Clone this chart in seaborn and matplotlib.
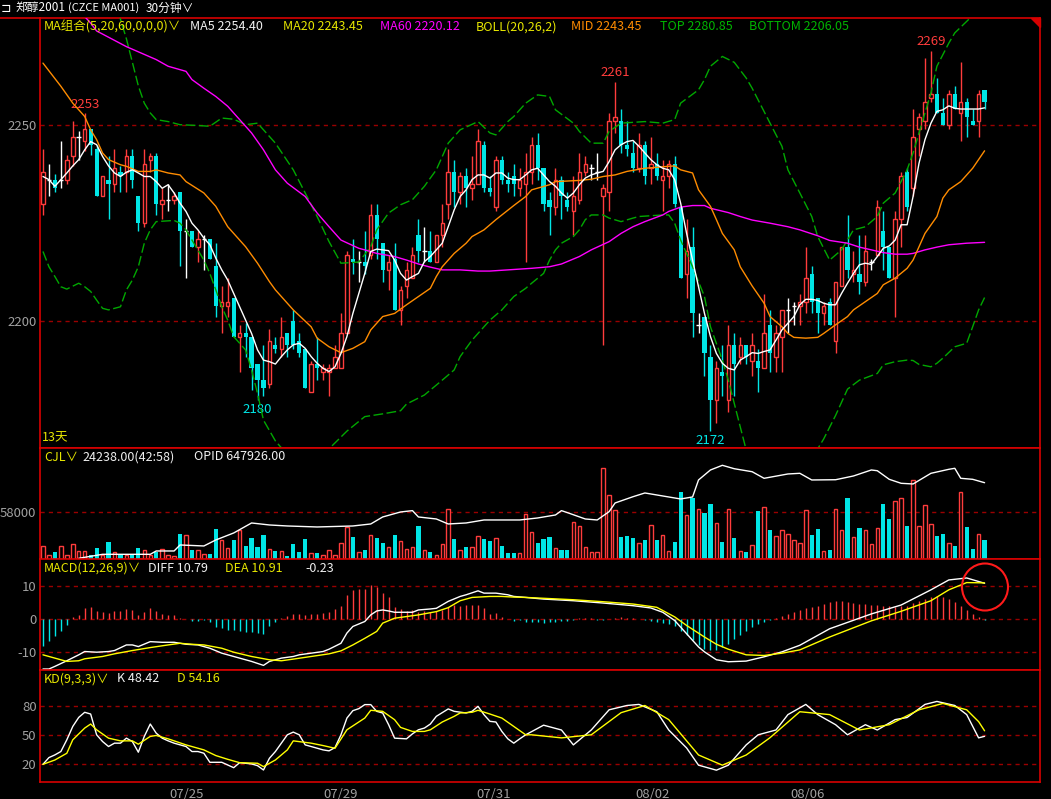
import numpy as np
import pandas as pd
import matplotlib
matplotlib.use('Agg')
import matplotlib.pyplot as plt
import seaborn as sns
from matplotlib.patches import Ellipse, Polygon

sns.set_theme(style='dark')
plt.rcParams['font.family'] = ['Noto Sans CJK SC', 'DejaVu Sans']
plt.rcParams['axes.unicode_minus'] = False

# ---- K线数据 (30分钟) ----
opens = [2230, 2236, 2236, 2236, 2236, 2242, 2247, 2246, 2249, 2244,
         2232, 2236, 2235, 2238, 2238, 2242, 2232, 2225, 2241, 2242,
         2230, 2231, 2231, 2233, 2223, 2223, 2219, 2221, 2221, 2214,
         2204, 2204, 2206, 2196, 2197, 2196, 2189, 2185, 2184, 2194,
         2193, 2197, 2200, 2195, 2193, 2182, 2189, 2187, 2187, 2188,
         2188, 2197, 2216, 2215, 2215, 2217, 2227, 2220, 2213, 2216,
         2203, 2209, 2211, 2222, 2218, 2218, 2215, 2222, 2230, 2238,
         2233, 2237, 2234, 2235, 2245, 2234, 2229, 2241, 2236, 2237,
         2234, 2235, 2238, 2245, 2239, 2231, 2229, 2236, 2231, 2228,
         2231, 2238, 2239, 2238, 2232, 2233, 2251, 2251, 2245, 2243,
         2239, 2245, 2239, 2240, 2236, 2237, 2240, 2229, 2212, 2219,
         2199, 2201, 2191, 2180, 2187, 2180, 2194, 2191, 2194, 2190,
         2190, 2188, 2199, 2191, 2196, 2203, 2204, 2204, 2205, 2212,
         2206, 2202, 2205, 2195, 2209, 2219, 2212, 2212, 2210, 2215,
         2217, 2223, 2219, 2211, 2226, 2238, 2234, 2249, 2251, 2257,
         2258, 2253, 2250, 2258, 2253, 2256, 2251, 2251, 2259]
closes = [2238, 2236, 2234, 2236, 2241, 2247, 2247, 2249, 2245, 2232,
          2237, 2235, 2239, 2237, 2242, 2236, 2225, 2240, 2242, 2230,
          2231, 2231, 2232, 2223, 2223, 2219, 2221, 2221, 2216, 2204,
          2205, 2205, 2196, 2197, 2196, 2188, 2185, 2183, 2195, 2193,
          2196, 2194, 2194, 2192, 2183, 2189, 2188, 2188, 2188, 2191,
          2197, 2217, 2215, 2215, 2214, 2227, 2221, 2213, 2215, 2203,
          2208, 2213, 2217, 2218, 2218, 2215, 2222, 2225, 2238, 2233,
          2237, 2234, 2235, 2246, 2234, 2233, 2241, 2236, 2235, 2235,
          2236, 2238, 2245, 2239, 2230, 2229, 2236, 2232, 2229, 2232,
          2238, 2240, 2239, 2238, 2234, 2251, 2252, 2245, 2244, 2239,
          2245, 2237, 2240, 2237, 2237, 2240, 2230, 2211, 2218, 2202,
          2199, 2192, 2180, 2188, 2186, 2194, 2189, 2194, 2191, 2194,
          2188, 2197, 2192, 2197, 2203, 2203, 2204, 2205, 2211, 2205,
          2202, 2204, 2199, 2210, 2219, 2213, 2213, 2210, 2218, 2215,
          2229, 2219, 2211, 2226, 2237, 2229, 2247, 2252, 2256, 2258,
          2253, 2250, 2258, 2254, 2256, 2252, 2250, 2258, 2256]
highs = [2244, 2240, 2237.5, 2246, 2242.5, 2251, 2248.5, 2253, 2249, 2245,
         2237, 2242, 2244, 2239.5, 2244, 2244, 2232, 2244, 2243, 2243,
         2234, 2235, 2233, 2233, 2226, 2223, 2223, 2222, 2221, 2220,
         2209, 2211, 2206, 2199, 2199.5, 2196, 2189, 2194, 2198, 2196,
         2201, 2197, 2203, 2197, 2193, 2190, 2196, 2189, 2189, 2194,
         2202, 2218, 2221, 2218, 2223, 2230, 2230, 2220, 2217, 2220,
         2209, 2215, 2219, 2226, 2224, 2223, 2222, 2230, 2244, 2241,
         2238, 2239, 2242, 2249, 2246, 2237, 2242, 2242, 2238, 2240,
         2239, 2243, 2247, 2248, 2239, 2233, 2239, 2237, 2233, 2237,
         2243, 2242, 2240, 2243, 2235, 2253, 2261, 2254, 2251, 2246,
         2248, 2246, 2247, 2243, 2241, 2241, 2242, 2229, 2226, 2224,
         2202, 2201, 2194, 2190, 2194, 2199, 2197, 2196, 2194, 2197,
         2193, 2207, 2203, 2199, 2203, 2206, 2205, 2207, 2219, 2214,
         2206, 2205, 2206, 2210, 2219, 2227, 2218, 2222, 2222, 2216,
         2231, 2228, 2219, 2228, 2238, 2239, 2254, 2253, 2267, 2269,
         2262, 2257, 2259, 2260, 2266, 2257, 2254, 2259, 2259]
lows = [2227, 2232, 2233, 2234, 2235, 2239.5, 2241, 2243.5, 2242.5, 2232,
        2232, 2226, 2233, 2233, 2233, 2234, 2223, 2224, 2238, 2227,
        2226, 2228, 2230, 2214, 2211, 2219, 2215, 2213, 2216, 2201,
        2197, 2201, 2196, 2187, 2191, 2182.5, 2180, 2181, 2183, 2192,
        2191, 2191, 2193, 2191, 2183, 2182, 2185, 2185, 2181, 2188,
        2188, 2197, 2212, 2210, 2212, 2216, 2216, 2210, 2208, 2203,
        2199, 2206, 2211, 2215, 2215, 2215, 2215, 2219, 2226, 2229,
        2230, 2229, 2231, 2235, 2233, 2232, 2228, 2235, 2233, 2232,
        2232, 2215, 2235, 2236, 2228, 2222, 2227, 2226, 2228, 2222,
        2230, 2237, 2236, 2236, 2194, 2228, 2248, 2243, 2242, 2238,
        2238, 2235, 2235, 2236, 2228, 2234, 2229, 2211, 2206, 2196,
        2197, 2186, 2172, 2174, 2181, 2177, 2181, 2189, 2189, 2186,
        2182, 2188, 2187, 2187, 2187, 2197, 2199, 2199, 2202, 2202,
        2197, 2199, 2199, 2192, 2209, 2211, 2210, 2207, 2209, 2213,
        2217, 2213, 2211, 2201, 2219, 2228, 2232, 2242, 2249, 2256,
        2253, 2250, 2249, 2254, 2246, 2247, 2250, 2247, 2254]

# ---- 成交量 CJL ----
volumes = [16000, 4900, 7800, 16000, 4900, 18500, 9900, 9900, 4900, 12700,
           4100, 21000, 8200, 4900, 4100, 4100, 12700, 11100, 4500, 8200,
           12300, 4100, 3700, 30800, 29600, 11100, 11100, 6200, 6200, 36200,
           23400, 13600, 23400, 35800, 16000, 25900, 14800, 29600, 12300, 9900,
           9900, 3700, 18500, 8600, 24700, 7000, 7000, 4500, 10700, 4500,
           19300, 39900, 27100, 8200, 11100, 29200, 25900, 19700, 14800, 29600,
           21800, 12300, 14400, 40700, 11100, 8600, 4900, 18500, 61200, 23800,
           11100, 14800, 14800, 28400, 23800, 21400, 25500, 16000, 7400, 7400,
           7000, 55500, 33300, 19700, 24700, 27100, 13600, 11100, 11100, 45600,
           40700, 14800, 8600, 8600, 113400, 78900, 60400, 27100, 28400, 25900,
           19700, 23400, 41900, 23400, 29600, 9900, 21000, 82600, 54300, 75200,
           61700, 56700, 67800, 44400, 21000, 61700, 25900, 9900, 8600, 17300,
           59200, 64100, 35800, 28400, 35800, 30800, 23400, 19700, 60400, 29600,
           37000, 9900, 11100, 61700, 35800, 75200, 27100, 38200, 35800, 18500,
           38200, 67800, 49300, 71500, 75200, 40700, 97400, 40700, 66600, 43200,
           28400, 30800, 19700, 16000, 82600, 39500, 12300, 30800, 23400]

# ---- 均线 ----
ma5 = [2236.9, 2236.1, 2234.4, 2236.1, 2237.8, 2239.6, 2241.2, 2243.7, 2245.8, 2245.0,
       2242.0, 2239.6, 2237.8, 2236.9, 2238.0, 2238.6, 2237.8, 2236.9, 2236.9, 2235.6,
       2233.9, 2234.8, 2232.7, 2230.1, 2228.0, 2225.0, 2223.3, 2221.2, 2219.5, 2216.1,
       2213.1, 2210.5, 2207.1, 2203.7, 2200.3, 2196.9, 2192.7, 2190.1, 2189.7, 2189.1,
       2191.0, 2192.7, 2194.0, 2194.4, 2193.1, 2191.0, 2189.3, 2188.0, 2187.2, 2188.4,
       2191.8, 2196.1, 2202.0, 2207.1, 2212.2, 2217.8, 2218.4, 2218.2, 2218.0, 2215.6,
       2212.2, 2210.5, 2211.4, 2212.2, 2215.2, 2216.5, 2218.2, 2219.9, 2224.1, 2228.4,
       2231.8, 2233.5, 2236.1, 2237.3, 2237.3, 2236.5, 2237.8, 2237.8, 2236.5, 2236.1,
       2236.1, 2237.3, 2238.6, 2239.0, 2237.3, 2235.6, 2234.4, 2232.7, 2231.4, 2232.7,
       2234.8, 2236.5, 2237.3, 2237.8, 2238.2, 2240.7, 2243.7, 2245.0, 2245.8, 2246.1,
       2244.6, 2242.9, 2241.2, 2239.9, 2239.0, 2238.6, 2236.1, 2230.1, 2222.4, 2215.6,
       2208.8, 2202.0, 2196.1, 2191.8, 2189.3, 2188.0, 2187.6, 2190.1, 2191.0, 2192.0,
       2191.8, 2192.3, 2192.7, 2195.2, 2197.8, 2199.5, 2201.2, 2204.2, 2205.6, 2205.6,
       2205.3, 2204.6, 2204.2, 2204.2, 2207.1, 2209.7, 2212.2, 2214.4, 2214.8, 2214.5,
       2216.5, 2218.6, 2219.2, 2220.7, 2224.6, 2224.6, 2231.8, 2240.3, 2246.3, 2250.5,
       2253.5, 2253.9, 2254.9, 2254.3, 2254.1, 2254.1, 2254.1, 2254.1, 2254.4]

ma20_x = [1, 4, 6, 8, 9, 10, 11, 12, 14, 15, 17, 19, 20, 22, 24, 25, 28, 30, 32, 35,
          37, 39, 40, 43, 46, 47, 49, 51, 53, 55, 56, 58, 60, 61, 62, 64, 66, 67, 68, 70,
          72, 73, 75, 77, 78, 80, 82, 83, 86, 87, 91, 93, 95, 97, 99, 102, 106, 107, 108, 110,
          111, 113, 114, 115, 117, 118, 120, 122, 123, 125, 126, 127, 129, 131, 132, 134, 136, 137, 139, 141,
          142, 144, 146, 147, 148, 149, 151, 152, 153, 155, 157, 159]
ma20 = [2265.8, 2259.9, 2255.6, 2252.2, 2248.8, 2246.3, 2242.9, 2241.2, 2239.9, 2239.5,
        2238.2, 2238.2, 2238.6, 2237.8, 2237.3, 2235.6, 2232.7, 2229.3, 2224.1, 2219.0,
        2214.8, 2210.1, 2208.0, 2202.9, 2198.6, 2195.7, 2193.5, 2192.0, 2193.1, 2194.8,
        2197.8, 2201.2, 2202.0, 2203.1, 2204.2, 2206.3, 2208.4, 2211.4, 2213.9, 2217.3,
        2219.9, 2221.6, 2223.3, 2225.9, 2227.1, 2229.5, 2231.8, 2233.5, 2234.8, 2235.6,
        2235.9, 2236.2, 2236.9, 2237.3, 2238.2, 2239.0, 2239.5, 2239.6, 2238.6, 2237.8,
        2233.5, 2229.3, 2225.9, 2222.4, 2218.2, 2213.9, 2209.0, 2204.6, 2201.2, 2198.6,
        2196.9, 2195.9, 2195.7, 2195.9, 2196.9, 2199.1, 2201.2, 2202.9, 2205.0, 2207.1,
        2209.3, 2211.0, 2213.5, 2215.6, 2219.0, 2222.4, 2226.7, 2231.4, 2233.5, 2235.6,
        2239.0, 2243.45]

ma60_x = [1, 6, 9, 10, 15, 20, 22, 25, 26, 28, 30, 32, 34, 36, 38, 40, 42, 45, 47, 49, 51,
          54, 55, 57, 60, 62, 64, 66, 68, 71, 74, 76, 79, 83, 86, 88, 91, 93, 96, 98, 100,
          102, 105, 106, 108, 110, 112, 113, 116, 118, 120, 123, 126, 128, 131, 133, 136, 138, 140, 142, 144,
          146, 147, 149, 151, 153, 156, 159]
ma60 = [2292.0, 2281.0, 2276.0, 2274.0, 2270.0, 2266.7, 2265.0, 2263.7, 2261.6, 2259.4, 2257.3,
        2254.8, 2251.4, 2248.0, 2243.7, 2238.6, 2235.2, 2231.8, 2227.6, 2224.1, 2220.7,
        2218.6, 2218.2, 2217.3, 2216.5, 2215.6, 2214.6, 2213.8, 2213.1, 2213.1, 2212.8,
        2212.8, 2213.1, 2213.5, 2213.9, 2214.6, 2216.5, 2218.2, 2220.3, 2222.4, 2224.1,
        2225.4, 2227.1, 2228.0, 2229.1, 2229.5, 2229.5, 2228.8, 2227.7, 2226.7, 2225.8,
        2225.0, 2224.1, 2223.3, 2221.8, 2220.6, 2219.9, 2218.9, 2218.2, 2217.5, 2217.1,
        2217.1, 2217.3, 2218.2, 2218.9, 2219.5, 2219.9, 2220.12]

# ---- BOLL(20,26,2) ----
top_x = [13, 15, 16, 17, 18, 19, 20, 22, 24, 27, 29, 31, 33, 35, 37, 38, 40, 43, 45, 47,
         49, 51, 54, 56, 57, 59, 61, 63, 65, 67, 69, 71, 74, 76, 77, 79, 80, 82, 84, 86,
         87, 90, 91, 93, 95, 96, 98, 102, 105, 107, 108, 111, 112, 113, 115, 117, 119, 120, 123, 125,
         126, 128, 130, 131, 133, 135, 137, 139, 141, 142, 144, 146, 147, 148, 149, 150, 151, 153, 154, 159]
boll_top = [2282.0, 2272.0, 2266.0, 2260.0, 2255.6, 2253.1, 2251.4, 2250.9, 2250.1, 2249.9,
            2249.7, 2251.8, 2251.5, 2250.1, 2250.5, 2248.8, 2245.4, 2238.6, 2232.7, 2226.7,
            2220.3, 2214.8, 2215.1, 2219.0, 2223.3, 2227.6, 2229.7, 2231.0, 2234.4, 2238.6,
            2245.4, 2248.8, 2250.9, 2248.0, 2247.5, 2250.9, 2252.2, 2255.6, 2257.7, 2257.3,
            2253.9, 2250.5, 2248.4, 2245.4, 2245.4, 2248.4, 2250.5, 2250.9, 2250.5, 2251.4,
            2255.6, 2259.0, 2261.6, 2265.0, 2267.5, 2266.0, 2262.0, 2259.4, 2250.5, 2244.6,
            2238.6, 2232.7, 2226.7, 2221.6, 2215.6, 2218.2, 2223.3, 2224.1, 2226.7, 2230.1,
            2232.7, 2238.6, 2242.9, 2248.0, 2253.1, 2258.2, 2265.0, 2270.9, 2273.5, 2280.85]
bot_x = [1, 2, 3, 4, 5, 7, 8, 9, 10, 11, 12, 14, 15, 16, 17, 18, 19, 20, 23, 24,
         25, 26, 28, 29, 30, 31, 32, 33, 35, 36, 37, 38, 40, 42, 45, 48, 50, 52, 55, 58,
         61, 62, 65, 68, 70, 71, 73, 76, 78, 80, 82, 83, 85, 86, 87, 88, 90, 91, 92, 93,
         95, 96, 98, 100, 101, 105, 106, 107, 108, 110, 112, 113, 115, 116, 118, 119, 121, 124, 127, 130,
         132, 134, 136, 138, 141, 142, 144, 146, 147, 148, 150, 151, 152, 154, 156, 157, 158, 159]
boll_bot = [2217.8, 2213.9, 2211.4, 2208.8, 2208.2, 2209.7, 2208.8, 2207.6, 2205.4, 2203.3,
            2202.9, 2203.7, 2208.0, 2210.5, 2213.9, 2219.9, 2223.3, 2225.4, 2225.7, 2225.0,
            2223.3, 2220.7, 2215.6, 2212.2, 2208.0, 2203.7, 2200.3, 2196.1, 2192.7, 2187.6,
            2181.6, 2174.8, 2169.5, 2166.0, 2164.0, 2166.0, 2169.0, 2172.0, 2175.7, 2176.4,
            2177.2, 2178.9, 2181.2, 2185.0, 2187.6, 2191.0, 2195.2, 2200.3, 2202.9, 2206.3,
            2208.4, 2209.7, 2212.2, 2215.6, 2218.2, 2219.9, 2221.6, 2223.3, 2225.9, 2227.1,
            2227.1, 2226.3, 2225.4, 2226.3, 2226.7, 2227.1, 2227.1, 2225.0, 2220.7, 2213.9,
            2206.3, 2198.6, 2190.1, 2185.0, 2173.1, 2167.2, 2163.0, 2160.0, 2160.0, 2165.0,
            2170.0, 2176.0, 2182.7, 2185.0, 2186.7, 2188.9, 2189.7, 2190.1, 2190.0, 2189.0,
            2188.4, 2189.3, 2190.6, 2193.5, 2194.4, 2198.6, 2202.9, 2206.05]

# ---- 持仓量 OPID ----
opid_x = [7, 11, 19, 20, 23, 24, 28, 30, 33, 36, 39, 42, 47, 53, 56, 58, 61, 63, 64, 67,
          69, 72, 75, 81, 84, 87, 88, 89, 92, 94, 96, 97, 100, 102, 105, 108, 110, 111, 113, 115,
          117, 120, 122, 126, 128, 130, 134, 137, 140, 141, 143, 145, 147, 150, 153, 154, 155, 157, 159]
opid = [557200, 562000, 562000, 566000, 566000, 573200, 572000, 579200, 587600, 599600,
        597200, 596000, 594800, 596000, 598400, 606800, 612800, 614400, 606800, 604400,
        598400, 599600, 603200, 603200, 605600, 609200, 614400, 612000, 604400, 603200,
        613200, 623600, 631100, 635600, 632000, 628400, 630800, 651200, 663200, 668800,
        664700, 661100, 653200, 658400, 659200, 651200, 651500, 656000, 663200, 662300,
        652000, 647200, 646400, 659200, 664000, 665200, 653200, 652000, 647926]

# ---- MACD(12,26,9) ----
macd_bar = [-8.1, -6.6, -5.2, -3.8, -1.8, 0.5, 1.2, 3.2, 3.7, 2.4,
            2.0, 1.9, 2.4, 2.5, 3.0, 2.7, 1.2, 2.2, 3.2, 2.5,
            1.5, 1.2, 1.2, 0.4, 0.1, -0.6, -0.5, -0.3, -0.8, -2.6,
            -2.8, -3.3, -3.5, -3.8, -4.0, -4.0, -4.3, -4.5, -2.3, -1.1,
            0.2, 0.9, 1.5, 1.5, 1.2, 1.5, 1.4, 1.7, 2.2, 3.0,
            3.9, 7.1, 8.6, 9.1, 9.1, 10.3, 9.6, 7.8, 6.7, 3.7,
            3.0, 2.5, 2.7, 2.2, 2.4, 2.2, 2.5, 2.7, 3.7, 4.2,
            4.0, 4.2, 4.2, 4.2, 3.2, 1.4, 1.7, 0.7, 0.1, -0.5,
            -0.3, -0.8, -0.8, -1.0, -1.2, -1.0, -0.8, -0.6, -0.5, -0.3,
            0.2, 0.3, 0.2, -0.2, -0.3, 0.1, 0.4, 0.5, 0.4, 0.2,
            -0.1, -0.3, -0.5, -0.8, -1.2, -1.6, -2.2, -3.6, -5.0, -6.5,
            -8.0, -9.0, -9.5, -9.3, -8.5, -7.5, -6.2, -5.0, -3.8, -2.6,
            -1.6, -0.8, -0.2, 0.3, 0.8, 1.5, 2.2, 2.8, 3.2, 3.6,
            4.0, 4.5, 5.0, 5.5, 5.3, 5.0, 4.8, 4.6, 4.4, 4.3,
            4.2, 4.0, 3.8, 3.6, 3.8, 4.0, 4.8, 5.5, 6.0, 6.5,
            6.8, 6.6, 6.0, 5.2, 4.0, 2.8, 1.5, 0.5, -0.23]
diff_x = [1, 2, 3, 5, 7, 8, 10, 12, 13, 15, 16, 17, 19, 21, 23, 25, 27, 29, 31, 33,
          34, 36, 38, 39, 41, 43, 44, 46, 48, 49, 51, 52, 53, 55, 56, 57, 58, 59, 60, 63,
          64, 66, 67, 69, 71, 72, 74, 75, 77, 79, 80, 82, 85, 90, 95, 100, 103, 105, 107, 109,
          111, 112, 114, 116, 119, 122, 125, 128, 133, 140, 145, 150, 153, 156, 159]
diff = [-15.2, -15.2, -14.4, -12.7, -10.9, -9.9, -10.1, -9.9, -9.6, -7.9,
        -7.9, -8.4, -6.9, -7.1, -7.1, -7.7, -7.9, -8.9, -10.4, -11.4,
        -11.9, -12.9, -14.1, -12.9, -11.9, -11.4, -10.9, -10.4, -9.9, -9.2,
        -7.4, -4.3, -2.3, -0.8, 1.2, 2.4, 2.7, 2.4, 2.0, 2.0,
        2.7, 3.0, 3.2, 5.3, 6.8, 7.3, 8.5, 7.8, 7.8, 7.3,
        6.8, 6.5, 6.0, 5.5, 4.8, 4.0, 3.3, 2.0, -0.5, -4.5,
        -8.5, -10.0, -12.4, -13.0, -12.8, -11.5, -10.0, -8.0, -3.0, 1.5,
        4.2, 8.8, 11.8, 12.4, 10.79]
dea_x = [1, 3, 5, 7, 8, 11, 13, 16, 19, 22, 24, 26, 28, 31, 33, 36, 39, 41, 43, 46,
         49, 51, 53, 55, 57, 58, 60, 62, 64, 67, 69, 71, 73, 76, 78, 80, 82, 90, 95, 100,
         104, 107, 109, 112, 114, 116, 119, 122, 125, 128, 133, 140, 145, 150, 153, 156, 159]
dea = [-10.9, -11.9, -12.9, -12.7, -12.1, -11.4, -10.6, -9.6, -8.7, -7.9,
       -7.4, -7.7, -7.9, -8.9, -10.1, -11.4, -12.4, -12.7, -12.2, -11.4,
       -10.6, -9.7, -7.9, -5.9, -3.8, -1.3, 0.2, 0.7, 1.2, 2.2,
       3.4, 5.5, 6.5, 6.8, 6.8, 6.6, 6.5, 5.8, 5.2, 4.5,
       3.5, 0.6, -2.0, -5.5, -7.7, -9.2, -10.9, -11.1, -10.4, -9.4,
       -5.5, -0.6, 2.3, 5.5, 8.8, 11.0, 10.91]

# ---- KD(9,3,3) ----
k_x = [1, 2, 3, 4, 5, 6, 7, 8, 9, 10, 11, 12, 13, 14, 15, 16, 17, 18, 19, 20,
       21, 22, 23, 25, 26, 27, 28, 29, 31, 33, 34, 36, 37, 38, 39, 40, 41, 42, 43, 44,
       45, 46, 48, 49, 50, 51, 52, 53, 54, 55, 56, 57, 58, 59, 60, 62, 63, 64, 65, 66,
       67, 69, 70, 72, 73, 74, 75, 76, 77, 78, 79, 80, 81, 82, 85, 88, 90, 93, 96, 99,
       101, 104, 106, 109, 111, 114, 116, 119, 121, 124, 126, 129, 131, 134, 136, 139, 141, 144, 146, 149,
       151, 154, 156, 158, 159]
k_val = [19.3, 26.3, 29.1, 32.6, 44.8, 58.7, 68.1, 73.4, 71.6, 50.0,
         43.0, 37.8, 41.3, 41.3, 46.5, 43.0, 31.9, 48.3, 61.2, 51.7,
         46.5, 43.7, 41.3, 37.8, 32.6, 32.6, 30.8, 21.4, 21.4, 15.8,
         21.0, 19.7, 17.9, 13.4, 25.6, 32.6, 41.3, 50.0, 52.8, 50.0,
         39.5, 37.8, 34.3, 33.3, 36.7, 50.0, 67.4, 75.1, 77.2, 81.4,
         81.4, 74.4, 72.7, 60.5, 46.5, 45.8, 51.0, 55.2, 57.0, 61.2,
         69.2, 76.9, 74.4, 72.7, 74.4, 79.6, 70.9, 64.0, 63.3, 53.5,
         45.8, 41.3, 45.8, 50.0, 60.0, 55.0, 39.5, 55.0, 76.0, 80.5,
         81.6, 74.0, 55.0, 36.3, 18.4, 13.2, 18.4, 39.5, 50.0, 55.0,
         71.0, 81.6, 71.0, 60.5, 50.0, 60.5, 55.0, 65.8, 68.0, 81.6,
         84.7, 80.5, 71.0, 46.8, 48.42]
d_x = [1, 3, 5, 6, 8, 9, 10, 12, 14, 16, 17, 19, 20, 22, 25, 28, 30, 32, 34, 37,
       38, 40, 42, 43, 46, 48, 50, 52, 55, 56, 58, 60, 61, 63, 65, 66, 68, 70, 71, 73,
       74, 76, 78, 80, 82, 83, 88, 93, 98, 102, 106, 111, 115, 119, 123, 128, 133, 138, 143, 148,
       152, 156, 158, 159]
d_val = [19.3, 23.8, 30.8, 44.8, 57.0, 61.2, 55.2, 46.5, 43.7, 43.7,
         40.2, 48.3, 49.3, 45.8, 39.5, 34.3, 28.4, 24.5, 21.0, 20.4,
         16.9, 23.8, 34.3, 43.7, 41.3, 38.8, 36.0, 55.2, 67.4, 75.5,
         74.4, 65.7, 57.7, 53.5, 53.5, 55.2, 63.3, 69.2, 72.7, 73.4,
         75.5, 71.6, 67.4, 58.7, 50.0, 50.0, 46.8, 50.0, 73.0, 80.5,
         65.8, 29.0, 18.4, 29.0, 47.0, 74.0, 71.0, 55.0, 60.5, 76.0,
         82.6, 76.0, 63.7, 54.16]

date_labels = ['07/25', '07/29', '07/31', '08/02', '08/06']
date_pos = [25.1, 50.9, 76.7, 103.3, 129.3]

RED = '#ff3c3c'
CYAN = '#00e6e6'
YEL = '#e6e600'
GRID = '#9a0000'
BORDER = '#d80000'
TICK = '#a0a0a0'

W, H = 1051, 799
fig = plt.figure(figsize=(W / 100, H / 100), dpi=100, facecolor='black')
bars = np.arange(1, len(opens) + 1)


def panel(top, bottom, ylim, yticks):
    ax = fig.add_axes([40 / W, 1 - bottom / H, 1000 / W, (bottom - top) / H])
    ax.set_facecolor('black')
    for s in ax.spines.values():
        s.set_color(BORDER)
        s.set_linewidth(1.2)
    ax.set_xlim(0.5, 168.3)
    ax.set_ylim(*ylim)
    ax.set_xticks([])
    ax.set_yticks(yticks)
    ax.set_yticklabels([str(t) for t in yticks])
    ax.tick_params(axis='y', length=0, colors=TICK, labelsize=9.5, pad=2.5)
    ax.grid(False)
    for t in yticks:
        ax.axhline(t, color=GRID, lw=1, ls=(0, (3, 3)), zorder=1)
    return ax


def line(ax, xs, ys, color, ls='-'):
    sns.lineplot(x=xs, y=ys, ax=ax, color=color, linewidth=1, linestyle=ls,
                 legend=False, zorder=6)


def ftext(x, y, s, color, size=9, ha='left', **kw):
    fig.text(x / W, 1 - y / H, s, color=color, fontsize=size, ha=ha, va='center', **kw)


# ---------------- 主图 ----------------
ax_p = panel(18, 448, (2167.7, 2277.3), [2200, 2250])
o, c, h, l = map(np.array, (opens, closes, highs, lows))
up, dn, flat = c > o, c < o, c == o
ax_p.vlines(bars[up], l[up], h[up], color=RED, lw=1, zorder=3)
ax_p.bar(bars[up], c[up] - o[up], bottom=o[up], width=0.58, facecolor='black',
         edgecolor=RED, linewidth=1, zorder=4)
ax_p.vlines(bars[dn], l[dn], h[dn], color=CYAN, lw=1, zorder=3)
ax_p.bar(bars[dn], o[dn] - c[dn], bottom=c[dn], width=0.7, color=CYAN,
         linewidth=0, zorder=4)
ax_p.vlines(bars[flat], l[flat], h[flat], color='white', lw=1, zorder=3)
ax_p.hlines(c[flat], bars[flat] - 0.38, bars[flat] + 0.38, color='white', lw=1, zorder=4)

line(ax_p, top_x, boll_top, '#00a800', (0, (7, 2.5)))
line(ax_p, bot_x, boll_bot, '#00a800', (0, (7, 2.5)))
line(ax_p, ma60_x, ma60, '#ff00ff')
line(ax_p, ma20_x, ma20, '#ff8c00')
line(ax_p, list(bars), ma5, 'white')

# 高低点标注
for b, v in [(8, 2253), (97, 2261), (150, 2269)]:
    ax_p.annotate(str(v), (b, v), xytext=(0, 2), textcoords='offset points',
                  ha='center', va='bottom', color=RED, fontsize=9.5)
for b, v in [(37, 2180), (113, 2172)]:
    ax_p.annotate(str(v), (b, v), xytext=(0, -2), textcoords='offset points',
                  ha='center', va='top', color=CYAN, fontsize=9.5)

# ---------------- 成交量 ----------------
ax_v = panel(448, 558.5, (0, 137800), [58000])
vol = np.array(volumes)
vup = c >= o
ax_v.bar(bars[vup], vol[vup], width=0.58, facecolor='black', edgecolor=RED,
         linewidth=1, zorder=3)
ax_v.bar(bars[~vup], vol[~vup], width=0.7, color=CYAN, linewidth=0, zorder=3)
ax_o = ax_v.twinx()
ax_o.set_ylim(556966, 689566)
ax_o.set_axis_off()
line(ax_o, opid_x, opid, 'white')

# ---------------- MACD ----------------
ax_m = panel(558.5, 670, (-15.5, 18.3), [-10, 0, 10])
mb = np.array(macd_bar)
ax_m.vlines(bars, 0, mb, colors=[RED if v > 0 else CYAN for v in mb], lw=1, zorder=3)
line(ax_m, diff_x, diff, 'white')
line(ax_m, dea_x, dea, '#ffff00')

# ---------------- KD ----------------
ax_k = panel(670, 782, (0.9, 117.4), [20, 50, 80])
line(ax_k, k_x, k_val, 'white')
line(ax_k, d_x, d_val, '#ffff00')
ax_k.set_xticks(date_pos)
ax_k.set_xticklabels(date_labels)
ax_k.tick_params(axis='x', length=0, colors=TICK, labelsize=9.5, pad=4)

for ax in (ax_p, ax_v, ax_m, ax_k):
    ax.set_xlabel('')
    ax.set_ylabel('')

# ---------------- 文字 ----------------
ftext(1, 8, '⊐', 'white', 9, family=['DejaVu Sans'])
ftext(15, 8, '郑醇2001', 'white', 8.5)
ftext(68, 8, '(CZCE MA001)', 'white', 8)
ftext(146, 8, '30分钟∨', 'white', 8.5)

ftext(44, 27, 'MA组合(5,20,60,0,0,0)∨', YEL)
ftext(190, 27, 'MA5 2254.40', '#f0f0f0')
ftext(283, 27, 'MA20 2243.45', YEL)
ftext(380, 27, 'MA60 2220.12', '#ff00ff')
ftext(476, 27, 'BOLL(20,26,2)', YEL)
ftext(571, 27, 'MID 2243.45', '#ff8c00')
ftext(660, 27, 'TOP 2280.85', '#00b400')
ftext(749, 27, 'BOTTOM 2206.05', '#00b400')
ftext(42, 438, '13天', YEL)

ftext(44, 457, 'CJL∨', YEL)
ftext(82, 457, '24238.00(42:58)', '#f0f0f0')
ftext(194, 457, 'OPID 647926.00', '#f0f0f0')

ftext(44, 568, 'MACD(12,26,9)∨', YEL)
ftext(148, 568, 'DIFF 10.79', '#f0f0f0')
ftext(225, 568, 'DEA 10.91', YEL)
ftext(305, 568, '-0.23', '#f0f0f0')

ftext(44, 679, 'KD(9,3,3)∨', YEL)
ftext(117, 679, 'K 48.42', '#f0f0f0')
ftext(177, 679, 'D 54.16', YEL)

# 顶部分隔线与角标
fig.add_artist(plt.Line2D([0, 40 / W], [1 - 18.3 / H] * 2, transform=fig.transFigure,
                          color=BORDER, lw=1.2))
fig.add_artist(Polygon([(1031 / W, 1 - 18.3 / H), (1040 / W, 1 - 18.3 / H), (1040 / W, 1 - 27 / H)],
                       closed=True, transform=fig.transFigure, color=BORDER))
fig.add_artist(Ellipse((985 / W, 1 - 587 / H), 46 / W, 47 / H, transform=fig.transFigure,
                       fill=False, edgecolor='#ff1a1a', lw=1.5))

fig.savefig('out.png', dpi=100, facecolor='black')
